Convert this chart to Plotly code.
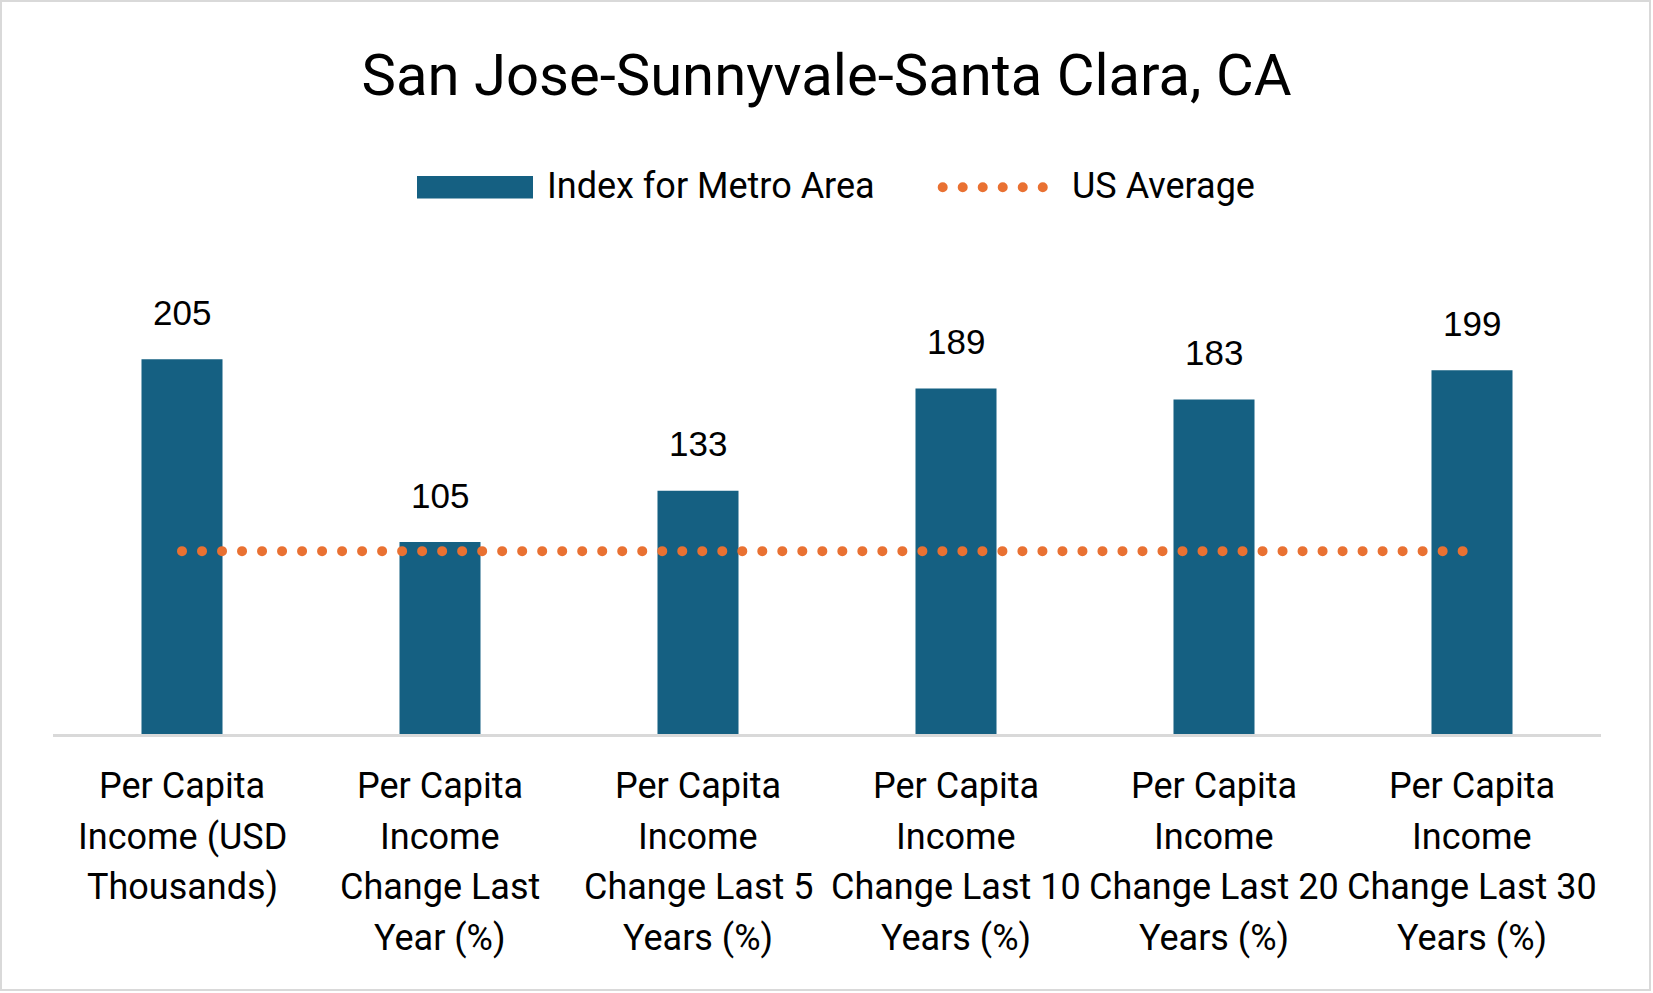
import plotly.graph_objects as go

# ---- data ----
categories = [
    "Per Capita<br>Income (USD<br>Thousands)",
    "Per Capita<br>Income<br>Change Last<br>Year (%)",
    "Per Capita<br>Income<br>Change Last 5<br>Years (%)",
    "Per Capita<br>Income<br>Change Last 10<br>Years (%)",
    "Per Capita<br>Income<br>Change Last 20<br>Years (%)",
    "Per Capita<br>Income<br>Change Last 30<br>Years (%)",
]
metro_index = [205, 105, 133, 189, 183, 199]
us_average = [100, 100, 100, 100, 100, 100]
title_text = "San Jose-Sunnyvale-Santa Clara, CA"
series_names = ["Index for Metro Area", "US Average"]

# ---- style ----
W, H = 1653, 993
L, R, T, B = 53, 1601, 250, 734
BAR = "#156082"
ORANGE = "#E97132"
FONT = "Roboto"

def px(x):
    return (x - L) / (R - L)

def py(y):
    return (B - y) / (B - T)

fig = go.Figure()
fig.add_trace(go.Bar(x=categories, y=metro_index, name=series_names[0],
                     marker=dict(color=BAR, line=dict(width=0)),
                     showlegend=False, hoverinfo="skip"))
fig.add_trace(go.Scatter(x=categories, y=us_average, name=series_names[1],
                         mode="lines", line=dict(color=ORANGE, width=10, dash="dot"),
                         showlegend=False, hoverinfo="skip"))

annotations = []
for c, v in zip(categories, metro_index):
    annotations.append(dict(x=c, y=v, xref="x", yref="y", text=str(v), showarrow=False,
                            yanchor="middle", yshift=47,
                            font=dict(family="Liberation Sans", size=35, color="black")))

# category labels, one annotation per text line (Excel-like line spacing)
for c in categories:
    for i, line in enumerate(c.split("<br>")):
        annotations.append(dict(x=c, y=0, xref="x", yref="paper", text=line, showarrow=False,
                                xanchor="center", yanchor="middle", yshift=-(52 + 50.5 * i),
                                font=dict(family=FONT, size=36, color="black")))

# manual legend
shapes = [
    dict(type="rect", xref="paper", yref="paper", x0=px(417), x1=px(533), y0=py(176), y1=py(198.5),
         fillcolor=BAR, line=dict(width=0)),
    dict(type="line", xref="paper", yref="paper", x0=px(942.7), x1=px(1045), y0=py(187.3), y1=py(187.3),
         line=dict(color=ORANGE, width=10, dash="dot")),
    dict(type="rect", xref="paper", yref="paper", x0=px(1), x1=px(1650), y0=py(1), y1=py(990),
         line=dict(color="#D9D9D9", width=2), fillcolor="rgba(0,0,0,0)"),
]
annotations.append(dict(x=px(545), y=py(185.5), xref="paper", yref="paper", text=series_names[0],
                        showarrow=False, xanchor="left", yanchor="middle",
                        font=dict(family=FONT, size=36, color="black")))
annotations.append(dict(x=px(1070), y=py(185.5), xref="paper", yref="paper", text=series_names[1],
                        showarrow=False, xanchor="left", yanchor="middle",
                        font=dict(family=FONT, size=36, color="black")))

fig.update_layout(
    width=W, height=H,
    margin=dict(l=L, r=W - R, t=T, b=H - B, autoexpand=False),
    paper_bgcolor="white", plot_bgcolor="white",
    title=dict(text=title_text, x=0.5, xanchor="center", y=1 - 75 / H, yanchor="middle",
               xref="container", yref="container",
               font=dict(family=FONT, size=58, color="black")),
    bargap=0.686,
    xaxis=dict(showline=True, linecolor="#D9D9D9", linewidth=3, showgrid=False, zeroline=False,
               ticks="", showticklabels=False, automargin=False),
    yaxis=dict(range=[0, 264.7], visible=False, showgrid=False, zeroline=False, automargin=False),
    shapes=shapes,
    annotations=annotations,
    showlegend=False,
)

post = """
document.body.style.margin='0';
document.body.style.overflow='hidden';
var gd = document.getElementById('{plot_id}');
gd.querySelectorAll('path').forEach(function(p){
  var s = (p.style.stroke || '').replace(/\\s/g,'');
  if (s.indexOf('233,113,50') >= 0) {
    p.style.strokeDasharray = '0.01px 20px';
    p.style.strokeLinecap = 'round';
  }
});
"""

fig.write_html("out.html", config={"displayModeBar": False}, post_script=post)
